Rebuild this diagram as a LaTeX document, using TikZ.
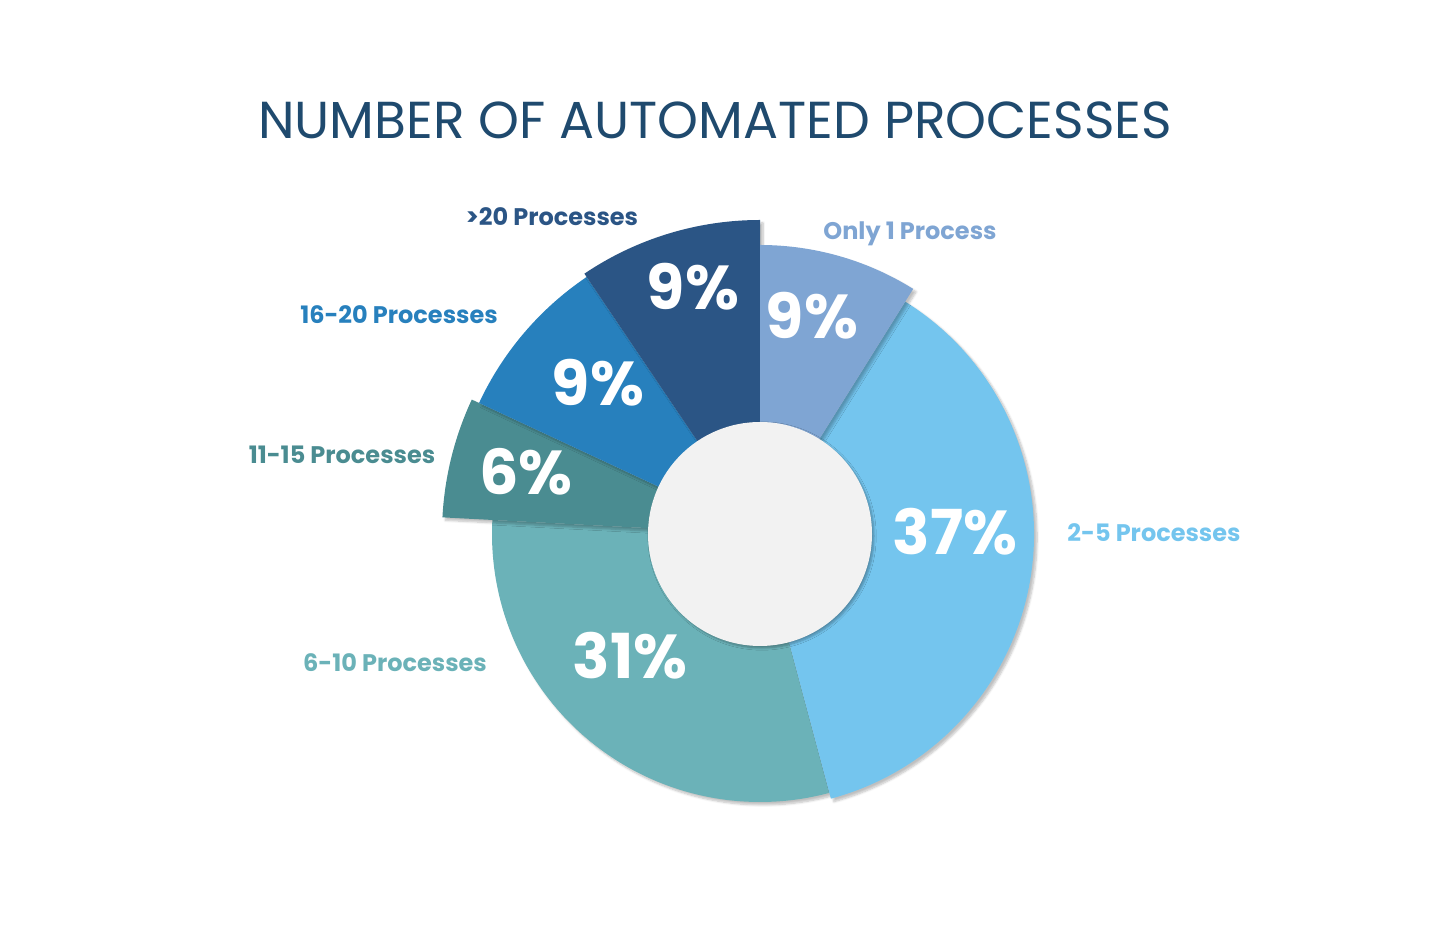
\documentclass[tikz,border=0pt]{standalone}
\usepackage{fontspec}
\setmainfont{Poppins}
\usetikzlibrary{shadows.blur}
\definecolor{cA}{HTML}{7FA5D3}
\definecolor{cB}{HTML}{74C5EE}
\definecolor{cC}{HTML}{6BB2B8}
\definecolor{cD}{HTML}{4A8C91}
\definecolor{cE}{HTML}{2780BD}
\definecolor{cF}{HTML}{2B5585}
\definecolor{ttl}{HTML}{1F4A6E}
\begin{document}
\begin{tikzpicture}[x=1pt,y=1pt,
  lab/.style={font=\fontsize{24}{24}\selectfont\bfseries},
  pct/.style={font=\fontsize{62}{62}\selectfont\bfseries,text=white},
  sec/.style={blur shadow={shadow blur steps=6,shadow xshift=3pt,shadow yshift=-3pt,shadow opacity=25}}]
\useasboundingbox (0,0) rectangle (1430,925);
\coordinate (c) at (760,391);
\def\sector#1#2#3#4{\fill[#1,sec] (c) -- ++(#2:#4) arc (#2:#3:#4) -- cycle;}
\sector{cC}{-75}{-183}{268}
\sector{cB}{58}{-75}{274}
\sector{cD}{177}{155}{318}
\sector{cE}{155}{124}{310}
\sector{cF}{124}{90}{314}
\sector{cA}{90}{58}{289}
\fill[white!95!black,blur shadow={shadow blur steps=6,shadow xshift=2pt,shadow yshift=-2pt,shadow opacity=30}] (c) circle (112);
\node[font=\fontsize{52}{52}\selectfont,text=ttl] (title) at (715,805) {NUMBER OF AUTOMATED PROCESSES};
\node[lab,text=cF] (l6) at (552,708) {>20 Processes};
\node[lab,text=cA] (l1) at (910,691) {Only 1 Process};
\node[lab,text=cE] (l5) at (399,610) {16-20 Processes};
\node[lab,text=cD] (l4) at (342,470) {11-15 Processes};
\node[lab,text=cB] (l2) at (1154,392) {2-5 Processes};
\node[lab,text=cC] (l3) at (395,262) {6-10 Processes};
\node[pct] (p6) at (693,638) {9\%};
\node[pct] (p1) at (812,609) {9\%};
\node[pct] (p5) at (598,542) {9\%};
\node[pct] (p4) at (526,453) {6\%};
\node[pct] (p2) at (955,393) {37\%};
\node[pct] (p3) at (630,269) {31\%};
\end{tikzpicture}
\end{document}
